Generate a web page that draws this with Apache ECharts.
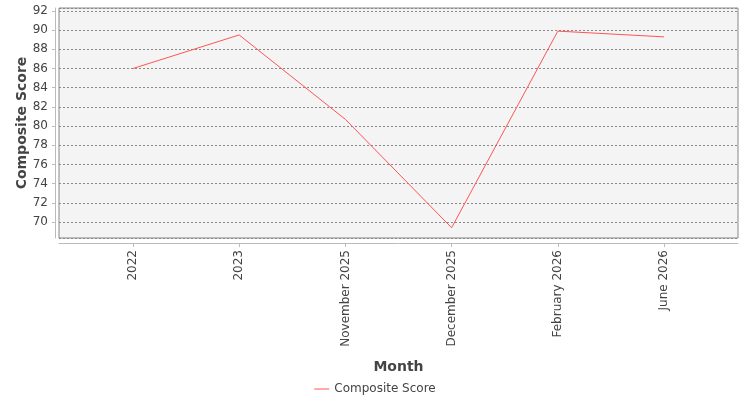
<!DOCTYPE html>
<html>
<head>
<meta charset="utf-8">
<script src="https://cdn.jsdelivr.net/npm/echarts@6/dist/echarts.min.js"></script>
<style>
  html, body { margin: 0; padding: 0; background: #fff; }
  #chart { width: 750px; height: 400px; }
</style>
</head>
<body>
<div id="chart"></div>
<script>
const months = ["2022", "2023", "November 2025", "December 2025", "February 2026", "June 2026"];
const compositeScore = [86.0, 89.5, 80.7, 69.4, 89.9, 89.3];
const yTicks = [70, 72, 74, 76, 78, 80, 82, 84, 86, 88, 90, 92];

const chart = echarts.init(document.getElementById("chart"), null, { renderer: "canvas" });

const textColor = "#444";
const font = "DejaVu Sans";

const option = {
  backgroundColor: "#fff",
  animation: false,
  textStyle: { fontFamily: font },
  grid: {
    left: 59, right: 12, top: 8, bottom: 162,
    show: true,
    backgroundColor: "#f4f4f4",
    borderColor: "#888",
    borderWidth: 1,
  },
  legend: {
    data: ["Composite Score"],
    left: "center",
    top: 378,
    icon: "rect",
    itemWidth: 15,
    itemHeight: 1,
    itemGap: 5,
    textStyle: { color: textColor, fontSize: 12, fontFamily: font },
  },
  xAxis: {
    type: "value",
    min: -0.696,
    max: months.length - 1 + 0.696,
    offset: 5,
    name: "Month",
    nameLocation: "middle",
    nameGap: 117,
    nameTextStyle: { color: textColor, fontSize: 14, fontWeight: "bold", fontFamily: font },
    axisLine: { onZero: false, lineStyle: { color: "#bbb" } },
    axisTick: { length: 4, lineStyle: { color: "#bbb" }, customValues: months.map((m, i) => i) },
    splitLine: { show: false },
    axisLabel: {
      rotate: 90,
      margin: 7,
      color: textColor,
      fontSize: 12,
      fontFamily: font,
      customValues: months.map((m, i) => i),
      formatter: (v) => months[Math.round(v)] || "",
    },
  },
  yAxis: {
    type: "value",
    min: 68.33,
    max: 92.31,
    splitNumber: 12,
    offset: 4,
    name: "Composite Score",
    nameLocation: "middle",
    nameGap: 26,
    nameMoveOverlap: false,
    nameTextStyle: { color: textColor, fontSize: 14, fontWeight: "bold", fontFamily: font },
    axisLine: { show: true, onZero: false, lineStyle: { color: "#bbb" } },
    axisTick: { show: true, length: 3, lineStyle: { color: "#bbb" } },
    axisLabel: {
      margin: 7,
      color: textColor,
      fontSize: 12,
      fontFamily: font,
      showMinLabel: false,
      showMaxLabel: false,
      formatter: (v) => (yTicks.includes(v) ? String(v) : ""),
    },
    splitLine: { show: true, lineStyle: { color: "#888", type: [2, 2], width: 1 } },
  },
  series: [
    {
      name: "Composite Score",
      type: "line",
      data: compositeScore.map((v, i) => [i, v]),
      symbol: "none",
      lineStyle: { color: "#ff5555", width: 1 },
      itemStyle: { color: "#ff5555" },
    },
  ],
};

chart.setOption(option);
</script>
</body>
</html>
